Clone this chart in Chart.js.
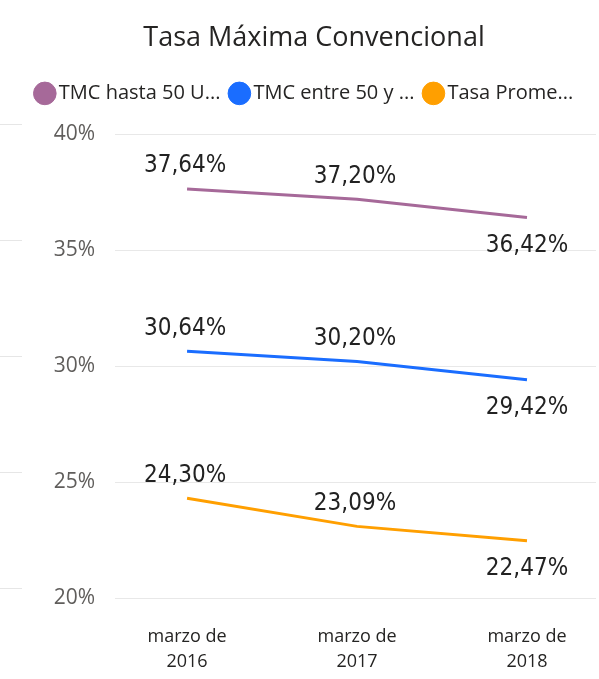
<!DOCTYPE html>
<html>
<head>
<meta charset="utf-8">
<script src="https://cdn.jsdelivr.net/npm/chart.js@4.4.0/dist/chart.umd.min.js"></script>
<style>
  html, body { margin: 0; padding: 0; background: #fff; }
  #wrap { width: 599px; height: 679px; }
</style>
</head>
<body>
<div id="wrap"><canvas id="chart"></canvas></div>
<script>
// Datos
const periodos = [['marzo de', '2016'], ['marzo de', '2017'], ['marzo de', '2018']];
const nombresSeries = ['TMC hasta 50 U...', 'TMC entre 50 y ...', 'Tasa Prome...'];
const tmcHasta50 = [37.64, 37.20, 36.42];
const tmcEntre50 = [30.64, 30.20, 29.42];
const tasaPromedio = [24.30, 23.09, 22.47];
const colores = ['#a66999', '#1a6dff', '#ff9f00'];

const fuente = "'Segoe UI', 'Open Sans', sans-serif";
const fuenteEtiquetas = "'DejaVu Sans Condensed', 'Roboto', sans-serif";

function aPuntos(valores) {
    return valores.map((v, i) => ({ x: i, y: v }));
}

function formato(v) {
    return v.toFixed(2).replace('.', ',') + '%';
}

// Etiquetas de datos: encima, salvo el último punto que va debajo
const etiquetasDatos = {
    id: 'etiquetasDatos',
    afterDatasetsDraw(chart) {
        const ctx = chart.ctx;
        ctx.save();
        ctx.font = `24px ${fuenteEtiquetas}`;
        ctx.fillStyle = '#222222';
        ctx.textAlign = 'center';
        ctx.textBaseline = 'middle';
        chart.data.datasets.forEach((ds, di) => {
            const meta = chart.getDatasetMeta(di);
            meta.data.forEach((pt, i) => {
                const ultimo = i === meta.data.length - 1;
                const dy = ultimo ? 28 : -23;
                ctx.fillText(formato(ds.data[i].y), pt.x - (ultimo ? 0 : 2), pt.y + dy);
            });
        });
        ctx.restore();
    }
};

// Trozos de líneas de cuadrícula del visual vecino (borde izquierdo),
// título y leyenda algo desplazados a la derecha como en el original
const ajustes = {
    id: 'ajustes',
    beforeInit(chart) {
        const fit = chart.legend.fit;
        chart.legend.fit = function () {
            fit.call(this);
            this.height += 21;
        };
    },
    beforeDraw(chart) {
        chart.titleBlock.left += 16;
        chart.titleBlock.right += 16;
        chart.legend.left += 9;
        chart.legend.right += 9;
        const y = chart.scales.y;
        const ctx = chart.ctx;
        ctx.save();
        ctx.strokeStyle = '#e6e6e6';
        ctx.lineWidth = 1;
        y.ticks.forEach(t => {
            const py = Math.round(y.getPixelForValue(t.value) - 10) + 0.5;
            ctx.beginPath();
            ctx.moveTo(0, py);
            ctx.lineTo(22, py);
            ctx.stroke();
        });
        ctx.restore();
    }
};

new Chart(document.getElementById('chart'), {
    type: 'line',
    data: {
        datasets: [
            { label: nombresSeries[0], data: aPuntos(tmcHasta50), borderColor: colores[0], backgroundColor: colores[0] },
            { label: nombresSeries[1], data: aPuntos(tmcEntre50), borderColor: colores[1], backgroundColor: colores[1] },
            { label: nombresSeries[2], data: aPuntos(tasaPromedio), borderColor: colores[2], backgroundColor: colores[2] }
        ]
    },
    options: {
        responsive: true,
        maintainAspectRatio: false,
        animation: false,
        layout: { padding: { left: 0, right: 3, top: 0, bottom: 0 } },
        elements: {
            line: { borderWidth: 3, tension: 0 },
            point: { radius: 0, hoverRadius: 0 }
        },
        plugins: {
            title: {
                display: true,
                text: 'Tasa Máxima Convencional',
                color: '#252423',
                font: { family: fuente, size: 27, weight: 'normal' },
                padding: { top: 22, bottom: 14 }
            },
            legend: {
                display: true,
                labels: {
                    usePointStyle: true,
                    pointStyle: 'circle',
                    boxWidth: 8,
                    boxHeight: 16,
                    padding: 15,
                    color: '#252423',
                    font: { family: fuente, size: 20 }
                }
            },
            tooltip: { enabled: false }
        },
        scales: {
            x: {
                type: 'linear',
                min: -0.424,
                max: 2.406,
                grid: { display: false, drawTicks: false },
                border: { display: false },
                afterBuildTicks(scale) {
                    scale.ticks = periodos.map((p, i) => ({ value: i }));
                },
                afterFit(scale) { scale.height = 81; },
                ticks: {
                    padding: 26,
                    color: '#252423',
                    font: { family: fuente, size: 18, lineHeight: 1.39 },
                    maxRotation: 0,
                    callback: (v) => periodos[v]
                }
            },
            y: {
                min: 20,
                max: 40,
                grid: { color: '#e8e8e8', drawTicks: false },
                border: { display: false },
                afterFit(scale) { scale.width = 115; },
                ticks: {
                    stepSize: 5,
                    padding: 20,
                    color: '#605e5c',
                    font: { family: fuente, size: 21 },
                    callback: (v) => v + '%'
                }
            }
        }
    },
    plugins: [etiquetasDatos, ajustes]
});
</script>
</body>
</html>
